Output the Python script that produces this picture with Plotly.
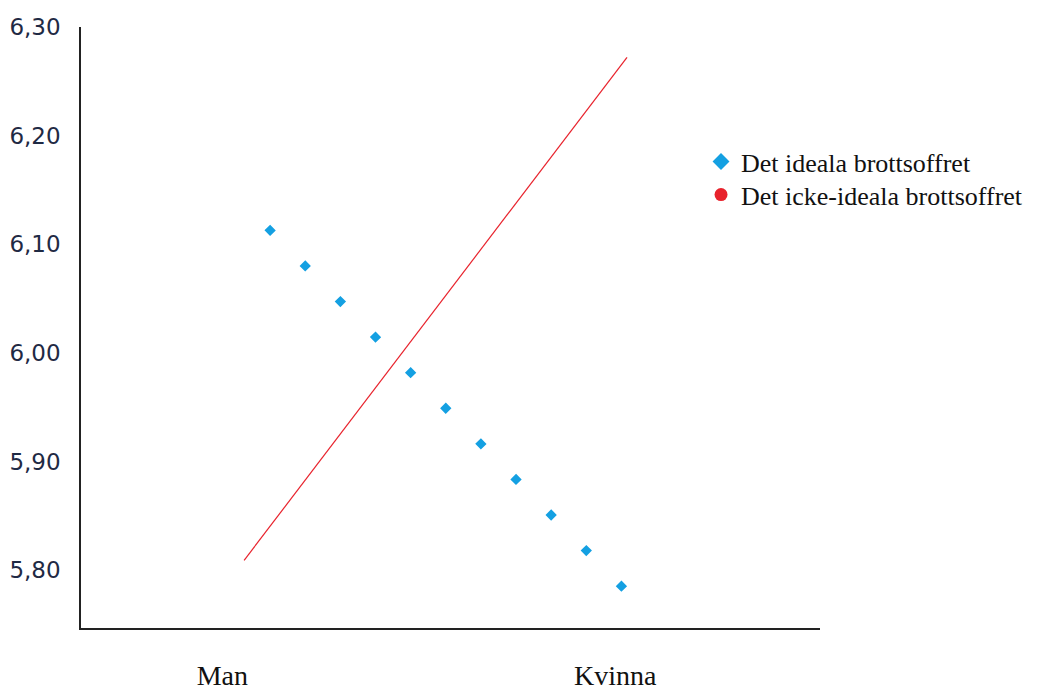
import plotly.graph_objects as go

categories = ["Man", "Kvinna"]
x_pos = [0, 1]
ideal = [6.137, 5.780]
icke_ideal = [5.809, 6.272]
series_names = ["Det ideala brottsoffret", "Det icke-ideala brottsoffret"]
y_ticks = [5.80, 5.90, 6.00, 6.10, 6.20, 6.30]
y_tick_labels = ["5,80", "5,90", "6,00", "6,10", "6,20", "6,30"]
cat_tick_pos = [-0.057, 0.969]

BLUE = "#14a0e2"
RED = "#e8222c"
SERIF = "Liberation Serif"

fig = go.Figure()
fig.add_trace(go.Scatter(x=x_pos, y=ideal, mode="lines", showlegend=False,
                         line=dict(color=BLUE, width=8, dash="0px,33px,8px,9px")))
fig.add_trace(go.Scatter(x=x_pos, y=icke_ideal, mode="lines", showlegend=False,
                         line=dict(color=RED, width=1.2)))
# legend entries
fig.add_trace(go.Scatter(x=[None], y=[None], mode="markers", name=series_names[0],
                         legend="legend",
                         marker=dict(symbol="diamond", size=13, color=BLUE)))
fig.add_trace(go.Scatter(x=[None], y=[None], mode="markers", name=series_names[1],
                         legend="legend2",
                         marker=dict(symbol="circle", size=13, color=RED)))

legend_style = dict(xanchor="left", yanchor="middle", x=0.839,
                    font=dict(size=26, family=SERIF, color="#111"),
                    bgcolor="rgba(0,0,0,0)")

fig.update_layout(
    width=1047, height=690,
    margin=dict(l=81, r=227, t=27, b=62),
    plot_bgcolor="white", paper_bgcolor="white",
    font=dict(family=SERIF, color="#111"),
    legend=dict(y=0.776, **legend_style),
    legend2=dict(y=0.721, **legend_style),
    xaxis=dict(range=[-0.426, 1.504], tickvals=cat_tick_pos, ticktext=categories,
               showgrid=False, zeroline=False, showline=True, linecolor="#222",
               linewidth=1.5, ticks="outside", ticklen=22, tickcolor="rgba(0,0,0,0)",
               automargin=False,
               tickfont=dict(size=28, family=SERIF, color="#111")),
    yaxis=dict(range=[5.7467, 6.30], tickvals=y_ticks, ticktext=y_tick_labels,
               showgrid=False, zeroline=False, showline=True, linecolor="#222",
               linewidth=1.5, ticks="outside", ticklen=14, tickcolor="rgba(0,0,0,0)",
               automargin=False,
               tickfont=dict(size=23, family="DejaVu Sans", color="#1f2a44")),
)

fig.write_html(
    "out.html",
    config={"displayModeBar": False},
    post_script="document.body.style.margin='0';document.body.style.overflow='hidden';",
)
